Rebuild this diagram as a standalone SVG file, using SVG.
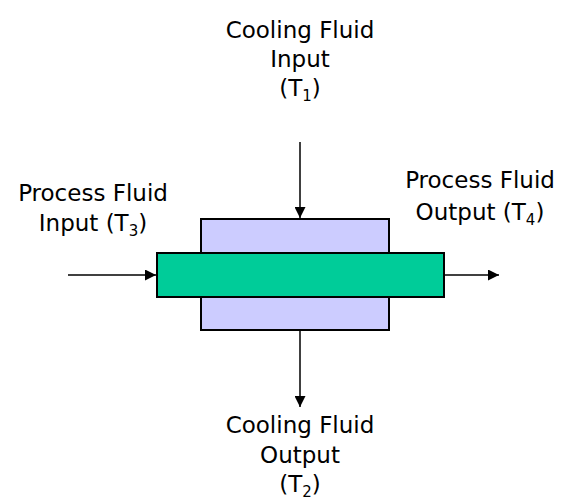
<svg xmlns="http://www.w3.org/2000/svg" width="568" height="500" viewBox="0 0 568 500">
<style>
text{font-family:"DejaVu Sans","Liberation Sans",sans-serif;font-size:23px;fill:#000;text-anchor:middle}
.sub{font-size:15px}
.c{stroke:#000;stroke-width:1.5;fill:none}
</style>
<defs>
<marker id="ah" viewBox="0 0 10 10" refX="10" refY="5" markerWidth="11" markerHeight="11" markerUnits="userSpaceOnUse" orient="auto">
<path d="M0,0L10,5L0,10z" fill="#000"/>
</marker>
</defs>
<g id="cooling-jacket"><rect x="201" y="219" width="188" height="111" fill="#ccccff" stroke="#000" stroke-width="2"/></g>
<g id="process-pipe"><rect x="157" y="253" width="287" height="44" fill="#00cc99" stroke="#000" stroke-width="2"/></g>
<g id="connectors">
<line class="c" x1="300" y1="142" x2="300" y2="218" marker-end="url(#ah)"/>
<line class="c" x1="300" y1="331" x2="300" y2="407" marker-end="url(#ah)"/>
<line class="c" x1="68" y1="275" x2="156" y2="275" marker-end="url(#ah)"/>
<line class="c" x1="445" y1="275" x2="499" y2="275" marker-end="url(#ah)"/>
</g>
<g id="label-cooling-in">
<text x="300" y="38">Cooling Fluid</text>
<text x="300" y="67">Input</text>
<text x="300" y="96">(T<tspan class="sub" dy="5">1</tspan><tspan dy="-5">)</tspan></text>
</g>
<g id="label-process-in">
<text x="93" y="201">Process Fluid</text>
<text x="93" y="231">Input (T<tspan class="sub" dy="5">3</tspan><tspan dy="-5">)</tspan></text>
</g>
<g id="label-process-out">
<text x="480" y="188">Process Fluid</text>
<text x="480" y="220">Output (T<tspan class="sub" dy="5">4</tspan><tspan dy="-5">)</tspan></text>
</g>
<g id="label-cooling-out">
<text x="300" y="433">Cooling Fluid</text>
<text x="300" y="463">Output</text>
<text x="300" y="492">(T<tspan class="sub" dy="5">2</tspan><tspan dy="-5">)</tspan></text>
</g>
</svg>
